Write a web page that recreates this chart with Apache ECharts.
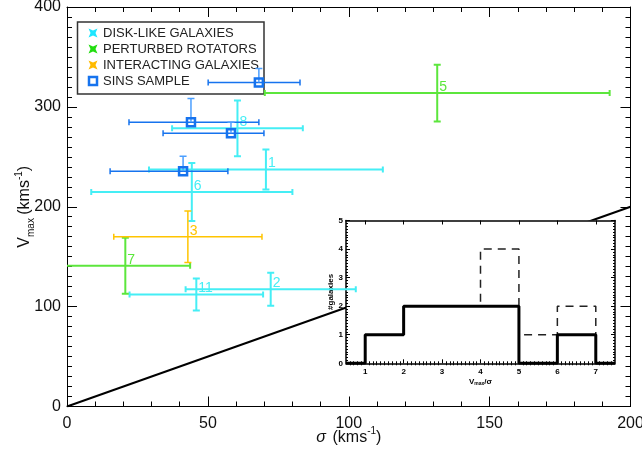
<!DOCTYPE html>
<html><head><meta charset="utf-8">
<script src="https://cdn.jsdelivr.net/npm/echarts@6/dist/echarts.min.js"></script>
<style>html,body{margin:0;padding:0;background:#fff}#c{width:642px;height:451px}</style>
</head><body><div id="c"></div>
<script>
// ---- main panel data (sigma, Vmax in km/s) ----
const diskLabels = ['1', '2', '6', '8', '11'];
const diskSigma = [70.6, 72.3, 44.3, 60.5, 45.9];
const diskVmax = [237.2, 117.5, 214.8, 278.5, 112.2];
const diskSigmaErr = [41.5, 30.2, 35.7, 23.2, 23.7];
const diskVmaxErr = [20, 16.5, 29, 28, 16];

const pertLabels = ['5', '7'];
const pertSigma = [131.4, 20.7];
const pertVmax = [313.8, 141];
const pertSigmaErr = [61.2, 23];
const pertVmaxErr = [28.5, 28];

const interLabels = ['3'];
const interSigma = [42.9];
const interVmax = [170];
const interSigmaErr = [26.3];
const interVmaxErr = [25.8];

const sinsSigma = [68.1, 44.0, 58.2, 41.2];
const sinsVmax = [324.5, 284.5, 273.5, 235.5];
const sinsSigmaLo = [50.1, 22.0, 34.1, 15.3];
const sinsSigmaHi = [82.7, 68.1, 69.9, 57.1];
const sinsVmaxHi = [338.5, 308.5, 284.5, 250.5];

const unityLine = [[0, 0], [200, 200]];

// ---- inset histogram data ----
const binEdges = [0.5, 1, 2, 3, 4, 5, 6, 7, 7.5];
const countsAll = [0, 1, 2, 2, 4, 1, 2, 0];
const countsSel = [0, 1, 2, 2, 2, 0, 1, 0];
const insetXTicks = [1, 2, 3, 4, 5, 6, 7];

const FONT = 'Liberation Sans';
const C_DISK = '#45eef5', C_PERT = '#5ce63c', C_INTER = '#ffc400', C_SINS = '#1673ee', C_SINS_V = '#4c9fff';

const insetXMinor = [];
for (let k = 6; k <= 74; k++) { if (k % 10 !== 0) insetXMinor.push(k / 10); }

function sym(s, v, e, ve) { return s.map((x, i) => [x, v[i], x - e[i], x + e[i], v[i] - ve[i], v[i] + ve[i]]); }
const diskData = sym(diskSigma, diskVmax, diskSigmaErr, diskVmaxErr);
const pertData = sym(pertSigma, pertVmax, pertSigmaErr, pertVmaxErr);
const interData = sym(interSigma, interVmax, interSigmaErr, interVmaxErr);
const sinsData = sinsSigma.map((x, i) => [x, sinsVmax[i], sinsSigmaLo[i], sinsSigmaHi[i], sinsVmax[i], sinsVmaxHi[i]]);

function errSeries(name, data, labels, color, lw, vColor, isSins) {
  return {
    name, type: 'custom', xAxisIndex: 0, yAxisIndex: 0, z: 5, clip: true, silent: true,
    data,
    renderItem(params, api) {
      const x = api.value(0), y = api.value(1);
      const c = api.coord([x, y]);
      const L = api.coord([api.value(2), y]), R = api.coord([api.value(3), y]);
      const B = api.coord([x, api.value(4)]), T = api.coord([x, api.value(5)]);
      const hs = { stroke: color, lineWidth: lw };
      const vs = { stroke: vColor || color, lineWidth: lw };
      const ch = [
        { type: 'line', shape: { x1: L[0], y1: L[1], x2: R[0], y2: R[1] }, style: hs },
        { type: 'line', shape: { x1: L[0], y1: L[1] - 3, x2: L[0], y2: L[1] + 3 }, style: hs },
        { type: 'line', shape: { x1: R[0], y1: R[1] - 3, x2: R[0], y2: R[1] + 3 }, style: hs },
        { type: 'line', shape: { x1: B[0], y1: B[1], x2: T[0], y2: T[1] }, style: vs },
        { type: 'line', shape: { x1: T[0] - 3.5, y1: T[1], x2: T[0] + 3.5, y2: T[1] }, style: vs }
      ];
      if (!isSins) {
        ch.push({ type: 'line', shape: { x1: B[0] - 3.5, y1: B[1], x2: B[0] + 3.5, y2: B[1] }, style: vs });
        ch.push({ type: 'text', x: c[0] + 2, y: c[1] + 1,
          style: { text: labels[params.dataIndex], fill: color, fontSize: 14, fontFamily: FONT,
                   textAlign: 'left', textVerticalAlign: 'bottom', align: 'left', verticalAlign: 'bottom' } });
      } else {
        ch.push({ type: 'rect', shape: { x: c[0] - 4, y: c[1] - 4, width: 8, height: 8 },
          style: { fill: 'none', stroke: C_SINS, lineWidth: 2.5 } });
      }
      return { type: 'group', children: ch };
    }
  };
}

function stepPoints(edges, counts) {
  const pts = [];
  counts.forEach((c, i) => { pts.push([edges[i], c], [edges[i + 1], c]); });
  return pts;
}

const supRich = {
  a: { fontSize: 16, fontFamily: FONT, color: '#111', lineHeight: 22 },
  i: { fontSize: 16, fontFamily: FONT, color: '#111', lineHeight: 22, fontStyle: 'italic' },
  sup: { fontSize: 10, fontFamily: FONT, color: '#111', lineHeight: 12, verticalAlign: 'top' },
  sub: { fontSize: 10, fontFamily: FONT, color: '#111', lineHeight: 12, verticalAlign: 'bottom' }
};

const mainTick = { inside: true, length: 10, lineStyle: { color: '#000', width: 1 } };
const mainAxisLine = { show: true, onZero: false, lineStyle: { color: '#000', width: 1 } };
const insAxisLine = { show: true, onZero: false, lineStyle: { color: '#000', width: 1.5 } };
const legendFont = '13px "Liberation Sans"';

const option = {
  animation: false,
  backgroundColor: '#fff',
  grid: [
    { left: 67, right: 11.5, top: 7, bottom: 44.5, show: false, containLabel: false, outerBoundsMode: 'none' },
    { left: 346, right: 27, top: 220.5, bottom: 87.7, show: true, backgroundColor: '#fff', borderWidth: 0, z: 3,
      containLabel: false, outerBoundsMode: 'none' }
  ],
  xAxis: [
    { gridIndex: 0, type: 'value', min: 0, max: 200, interval: 50, position: 'bottom',
      axisLine: mainAxisLine, axisTick: mainTick,
      minorTick: { show: true, splitNumber: 5, length: 5, lineStyle: { color: '#000' } },
      axisLabel: { fontSize: 16, fontFamily: FONT, color: '#111', margin: 9 },
      splitLine: { show: false },
      name: '{i|σ}  {a|(kms}{sup|-1}{a|)}', nameLocation: 'middle', nameGap: 20, nameMoveOverlap: false,
      nameTextStyle: { rich: supRich } },
    { gridIndex: 0, type: 'value', min: 0, max: 200, interval: 50, position: 'top',
      axisLine: mainAxisLine, axisTick: mainTick,
      minorTick: { show: true, splitNumber: 5, length: 5, lineStyle: { color: '#000' } },
      axisLabel: { show: false }, splitLine: { show: false } },
    { gridIndex: 1, type: 'value', min: 0.5, max: 7.5, position: 'bottom', z: 4,
      axisLine: insAxisLine,
      axisTick: { inside: true, length: 4, customValues: insetXTicks, lineStyle: { color: '#000' } },
      axisLabel: { customValues: insetXTicks, fontSize: 8, fontWeight: 'bold', fontFamily: FONT, color: '#000', margin: 4 },
      splitLine: { show: false },
      name: '{a|V}{s|max}{a|/σ}', nameLocation: 'middle', nameGap: 13, nameMoveOverlap: false,
      nameTextStyle: { rich: { a: { fontSize: 8, fontWeight: 'bold', fontFamily: FONT, color: '#000', lineHeight: 10 },
                               s: { fontSize: 5, fontWeight: 'bold', fontFamily: FONT, color: '#000', lineHeight: 6, verticalAlign: 'bottom' } } } },
    { gridIndex: 1, type: 'value', min: 0.5, max: 7.5, position: 'bottom', z: 4,
      axisLine: { show: false },
      axisTick: { inside: true, length: 2, customValues: insetXMinor, lineStyle: { color: '#000' } },
      axisLabel: { show: false }, splitLine: { show: false } },
    { gridIndex: 1, type: 'value', min: 0.5, max: 7.5, position: 'top', z: 4,
      axisLine: insAxisLine,
      axisTick: { inside: true, length: 4, customValues: insetXTicks, lineStyle: { color: '#000' } },
      axisLabel: { show: false }, splitLine: { show: false } },
    { gridIndex: 1, type: 'value', min: 0.5, max: 7.5, position: 'top', z: 4,
      axisLine: { show: false },
      axisTick: { inside: true, length: 2, customValues: insetXMinor, lineStyle: { color: '#000' } },
      axisLabel: { show: false }, splitLine: { show: false } }
  ],
  yAxis: [
    { gridIndex: 0, type: 'value', min: 0, max: 400, interval: 100, position: 'left',
      axisLine: mainAxisLine, axisTick: mainTick,
      minorTick: { show: true, splitNumber: 10, length: 5, lineStyle: { color: '#000' } },
      axisLabel: { fontSize: 16, fontFamily: FONT, color: '#111', margin: 6 },
      splitLine: { show: false },
      name: '{a|V}{sub|max} {a|(kms}{sup|-1}{a|)}', nameLocation: 'middle', nameRotate: 90, nameGap: 31, nameMoveOverlap: false,
      nameTextStyle: { rich: supRich } },
    { gridIndex: 0, type: 'value', min: 0, max: 400, interval: 100, position: 'right',
      axisLine: mainAxisLine, axisTick: mainTick,
      minorTick: { show: true, splitNumber: 10, length: 5, lineStyle: { color: '#000' } },
      axisLabel: { show: false }, splitLine: { show: false } },
    { gridIndex: 1, type: 'value', min: 0, max: 5, interval: 1, position: 'left', z: 4,
      axisLine: insAxisLine,
      axisTick: { inside: true, length: 4, lineStyle: { color: '#000' } },
      minorTick: { show: true, splitNumber: 10, length: 2, lineStyle: { color: '#000' } },
      axisLabel: { fontSize: 8, fontWeight: 'bold', fontFamily: FONT, color: '#000', margin: 3 },
      splitLine: { show: false },
      name: '#galaxies', nameLocation: 'middle', nameRotate: 90, nameGap: 11, nameMoveOverlap: false,
      nameTextStyle: { fontSize: 8, fontWeight: 'bold', fontFamily: FONT, color: '#000' } },
    { gridIndex: 1, type: 'value', min: 0, max: 5, interval: 1, position: 'right', z: 4,
      axisLine: insAxisLine,
      axisTick: { inside: true, length: 4, lineStyle: { color: '#000' } },
      minorTick: { show: true, splitNumber: 10, length: 2, lineStyle: { color: '#000' } },
      axisLabel: { show: false }, splitLine: { show: false } }
  ],
  series: [
    { name: 'unity', type: 'line', xAxisIndex: 0, yAxisIndex: 0, data: unityLine, showSymbol: false, z: 1,
      silent: true, lineStyle: { color: '#000', width: 2 } },
    { name: 'all', type: 'line', xAxisIndex: 2, yAxisIndex: 2, data: stepPoints(binEdges, countsAll), showSymbol: false, z: 4,
      silent: true, lineStyle: { color: '#222', width: 1.5, type: [8, 6] } },
    { name: 'sel', type: 'line', xAxisIndex: 2, yAxisIndex: 2, data: stepPoints(binEdges, countsSel), showSymbol: false, z: 4,
      silent: true, lineStyle: { color: '#000', width: 3 } },
    errSeries('DISK-LIKE GALAXIES', diskData, diskLabels, C_DISK, 2),
    errSeries('PERTURBED ROTATORS', pertData, pertLabels, C_PERT, 2),
    errSeries('INTERACTING GALAXIES', interData, interLabels, C_INTER, 1.5),
    errSeries('SINS SAMPLE', sinsData, [], C_SINS, 1.5, C_SINS_V, true)
  ],
  graphic: [
    { type: 'rect', z: 1, shape: { x: 77.5, y: 22, width: 186.5, height: 72 }, style: { fill: '#fff', stroke: '#333', lineWidth: 1.5 } },
    { type: 'polygon', z: 1, shape: { points: [[88.5,28.5],[93,30.5],[97.5,28.5],[95.5,33],[97.5,37.5],[93,35.5],[88.5,37.5],[90.5,33]] }, style: { fill: '#1de6ff' } },
    { type: 'polygon', z: 1, shape: { points: [[88.5,44.5],[93,46.5],[97.5,44.5],[95.5,49],[97.5,53.5],[93,51.5],[88.5,53.5],[90.5,49]] }, style: { fill: '#22dd10' } },
    { type: 'polygon', z: 1, shape: { points: [[88.5,60.5],[93,62.5],[97.5,60.5],[95.5,65],[97.5,69.5],[93,67.5],[88.5,69.5],[90.5,65]] }, style: { fill: '#ffbb00' } },
    { type: 'rect', z: 1, shape: { x: 89, y: 77, width: 8, height: 8 }, style: { fill: 'none', stroke: C_SINS, lineWidth: 2.5 } },
    { type: 'text', z: 1, x: 103, y: 33, style: { text: 'DISK-LIKE GALAXIES', fill: '#222', font: legendFont, textVerticalAlign: 'middle', verticalAlign: 'middle' } },
    { type: 'text', z: 1, x: 103, y: 49, style: { text: 'PERTURBED ROTATORS', fill: '#222', font: legendFont, textVerticalAlign: 'middle', verticalAlign: 'middle' } },
    { type: 'text', z: 1, x: 103, y: 65, style: { text: 'INTERACTING GALAXIES', fill: '#222', font: legendFont, textVerticalAlign: 'middle', verticalAlign: 'middle' } },
    { type: 'text', z: 1, x: 103, y: 81, style: { text: 'SINS SAMPLE', fill: '#222', font: legendFont, textVerticalAlign: 'middle', verticalAlign: 'middle' } }
  ]
};

const chart = echarts.init(document.getElementById('c'), null, { renderer: 'canvas' });
chart.setOption(option);
</script>
</body></html>
